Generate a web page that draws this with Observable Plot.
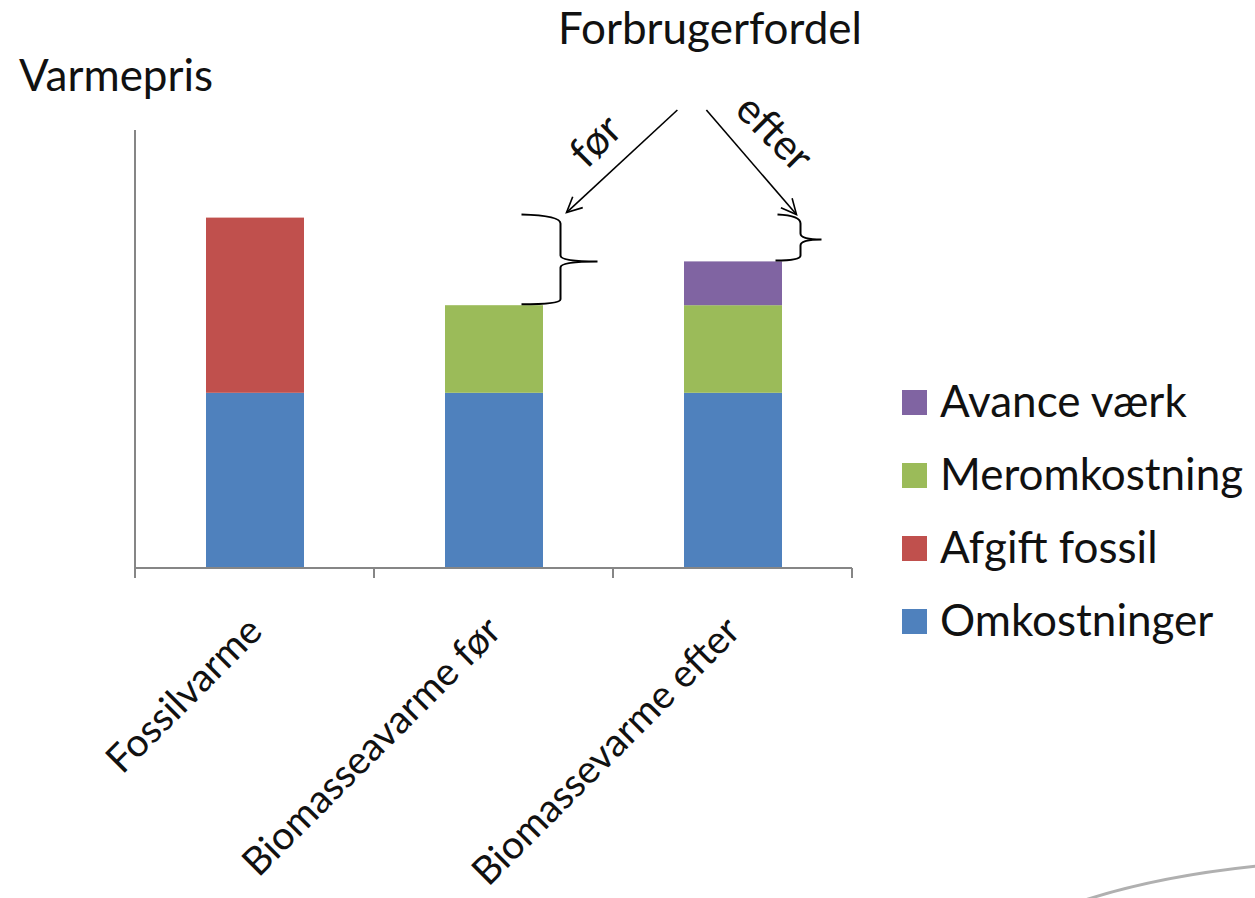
<!DOCTYPE html>
<html><head><meta charset="utf-8">
<script src="https://cdn.jsdelivr.net/npm/d3@7"></script>
<script src="https://cdn.jsdelivr.net/npm/@observablehq/plot@0.6"></script>
<style>
body{margin:0;background:#fff;}
#wrap{position:relative;width:1255px;height:898px;font-family:Lato,sans-serif;color:#111;overflow:hidden;}
#wrap svg{position:absolute;left:0;top:0;}
.t{position:absolute;white-space:nowrap;font-size:44px;line-height:44px;}
.sw{position:absolute;width:25px;height:25px;}
</style></head>
<body><div id="wrap"></div>
<script>
// ---- data ----
const categories = ["Fossilvarme", "Biomasseavarme før", "Biomassevarme efter"];
const series = ["Omkostninger", "Afgift fossil", "Meromkostning", "Avance værk"];
const seriesColors = ["#4F81BD", "#C0504D", "#9BBB59", "#8064A2"];
const omkostninger = [4, 4, 4];
const afgiftFossil = [4, 0, 0];
const meromkostning = [0, 2, 2];
const avanceVaerk = [0, 0, 1];
const yTitle = "Varmepris";
const annotationTitle = "Forbrugerfordel";
const annotationLabels = ["før", "efter"];

const seriesValues = [omkostninger, afgiftFossil, meromkostning, avanceVaerk];
const rows = [];
series.forEach((s, si) => categories.forEach((c, ci) => {
  const v = seriesValues[si][ci];
  if (v > 0) rows.push({category: c, series: s, value: v});
}));
const totals = categories.map((c, ci) => d3.sum(seriesValues, a => a[ci]));

const W = 1255, H = 898, mL = 135, mR = 403, mT = 130, mB = 330;
const YMAX = 10;
const FONT = "Lato, sans-serif";
const AX = "#868686";
const PAD_IN = 0.59;

function decor(index, scales, values, dims) {
  const {width, height, marginLeft, marginRight, marginTop, marginBottom} = dims;
  const x0 = marginLeft, x1 = width - marginRight, yb = height - marginBottom;
  const y = (scales && typeof scales.y === "function")
    ? scales.y : (v => yb - (v / YMAX) * (yb - marginTop));
  const n = categories.length, step = (x1 - x0) / n;
  let bw = step * (1 - PAD_IN);
  if (scales && scales.x) {
    const b = typeof scales.x.bandwidth === "function" ? scales.x.bandwidth() : scales.x.bandwidth;
    if (typeof b === "number" && isFinite(b) && b > 0) bw = b;
  }
  const center = i => x0 + step * (i + 0.5);
  const g = d3.create("svg:g");
  // axes
  g.append("line").attr("x1", x0).attr("x2", x0).attr("y1", marginTop).attr("y2", yb + 1)
    .attr("stroke", AX).attr("stroke-width", 2);
  g.append("line").attr("x1", x0).attr("x2", x1).attr("y1", yb).attr("y2", yb)
    .attr("stroke", AX).attr("stroke-width", 2);
  for (let i = 0; i <= n; i++) {
    g.append("line").attr("x1", x0 + i * step).attr("x2", x0 + i * step).attr("y1", yb).attr("y2", yb + 10)
      .attr("stroke", AX).attr("stroke-width", 2);
  }
  // braces
  function brace(tipTop, tipBot, spineX, pointX, yTop, yBot) {
    const ym = (yTop + yBot) / 2;
    const r = Math.min(6, (yBot - yTop) / 6);
    const p = `M${tipTop},${yTop - 3} Q${spineX},${yTop - 2} ${spineX},${yTop + r}
      L${spineX},${ym - r} Q${spineX},${ym} ${pointX},${ym} Q${spineX},${ym} ${spineX},${ym + r}
      L${spineX},${yBot - r} Q${spineX},${yBot - 1} ${tipBot},${yBot - 1}`;
    g.append("path").attr("d", p).attr("fill", "none").attr("stroke", "#000").attr("stroke-width", 2);
  }
  const r1 = center(1) + bw / 2, r2 = center(2) + bw / 2;
  const yFossil = y(totals[0]), yFor = y(totals[1]), yEfter = y(totals[2]);
  brace(r1 - 21, r1 - 21, r1 + 18, r1 + 55, yFossil, yFor);
  brace(r2 - 4, r2 - 6, r2 + 19, r2 + 40, yFossil, yEfter);
  // arrows
  const titleC = x0 + step * 2.42;
  function arrow(xs, ys, xe, ye) {
    g.append("line").attr("x1", xs).attr("y1", ys).attr("x2", xe).attr("y2", ye)
      .attr("stroke", "#000").attr("stroke-width", 1.6);
    const a = Math.atan2(ye - ys, xe - xs), L = 17, s = 0.45;
    const h = `M${xe - L * Math.cos(a - s)},${ye - L * Math.sin(a - s)} L${xe},${ye} L${xe - L * Math.cos(a + s)},${ye - L * Math.sin(a + s)}`;
    g.append("path").attr("d", h).attr("fill", "none").attr("stroke", "#000").attr("stroke-width", 1.6);
  }
  arrow(titleC - 36, 110, r1 + 24, yFossil - 5);
  arrow(titleC - 7, 110, r2 + 15, yFossil - 3);
  // arrow labels
  g.append("text").attr("transform", `translate(${r1 + 63},${151}) rotate(-45)`)
    .attr("text-anchor", "middle").attr("font-family", FONT).attr("font-size", 42).attr("fill", "#111")
    .text(annotationLabels[0]);
  g.append("text").attr("transform", `translate(${r2 - 17},${143}) rotate(45)`)
    .attr("text-anchor", "middle").attr("font-family", FONT).attr("font-size", 42).attr("fill", "#111")
    .text(annotationLabels[1]);
  // slide decoration
  g.append("path").attr("d", `M1085,900 Q1160,876 1258,866`).attr("fill", "none")
    .attr("stroke", "#b0b0b0").attr("stroke-width", 3);
  return g.node();
}

const chart = Plot.plot({
  width: W, height: H,
  marginLeft: mL, marginRight: mR, marginTop: mT, marginBottom: mB,
  style: {fontFamily: FONT, background: "transparent", overflow: "visible", color: "#111"},
  x: {type: "band", domain: categories, paddingInner: PAD_IN, paddingOuter: PAD_IN / 2, label: null},
  y: {domain: [0, YMAX], axis: null},
  color: {domain: series, range: seriesColors},
  marks: [
    Plot.barY(rows, {x: "category", y: "value", fill: "series", order: series}),
    Plot.axisX({tickSize: 0, tickPadding: 56, tickRotate: -45, fontSize: 39, label: null, fill: "#111"}),
    decor
  ]
});

const wrap = document.getElementById("wrap");
wrap.appendChild(chart);

function addText(txt, left, top) {
  const d = document.createElement("div");
  d.className = "t"; d.textContent = txt;
  d.style.left = left + "px"; d.style.top = top + "px";
  wrap.appendChild(d);
  return d;
}
addText(yTitle, 19, 52);
addText(annotationTitle, 558, 5);

// legend (reverse order, top = last series)
const legendOrder = series.map((s, i) => i).reverse();
legendOrder.forEach((si, k) => {
  const top = 390 + k * 73;
  const sw = document.createElement("div");
  sw.className = "sw"; sw.style.background = seriesColors[si];
  sw.style.left = "902px"; sw.style.top = top + "px";
  wrap.appendChild(sw);
  addText(series[si], 940, top - 12);
});
</script>
</body></html>
